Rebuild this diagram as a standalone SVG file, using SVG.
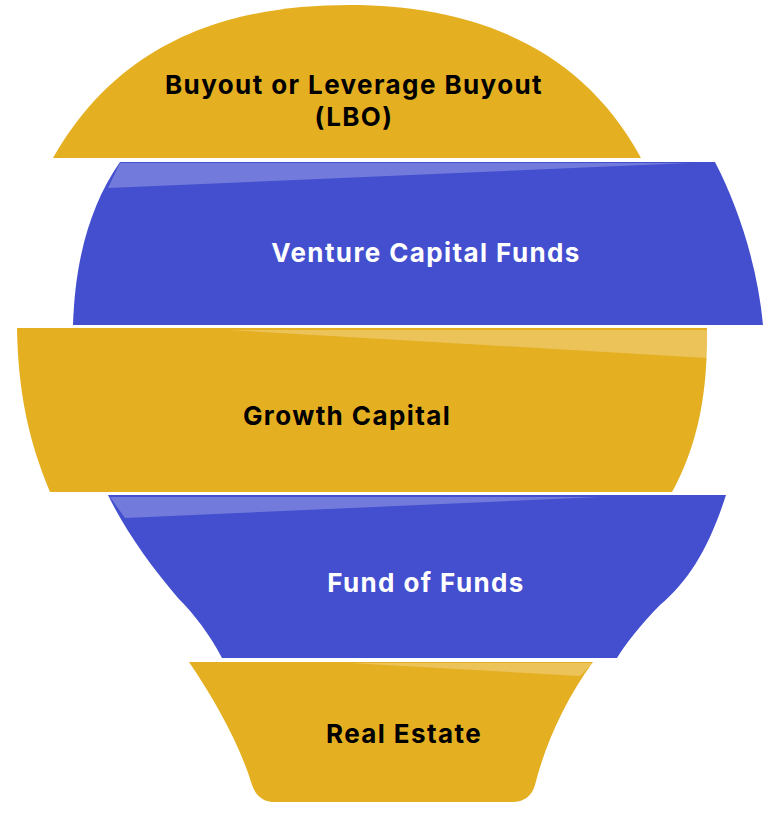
<svg xmlns="http://www.w3.org/2000/svg" width="777" height="824" viewBox="0 0 777 824">
<style>
.y{fill:#E5AF22}.b{fill:#434FCF}.h{fill:#ffffff;opacity:0.25}
.t{font-family:Inter,"Open Sans",sans-serif;font-weight:700;font-size:26px;letter-spacing:1.4px;text-anchor:middle}
.dk{fill:#000}.lt{fill:#fff}
</style>
<rect width="777" height="824" fill="#fff"/>
<g id="lbo">
<path class="y" d="M53,158 C120,40 230,5 350,5 C470,5 580,45 641,158 Z"/>
<text class="t dk" x="354" y="94">Buyout or Leverage Buyout</text>
<text class="t dk" x="354" y="126">(LBO)</text>
</g>
<g id="vc">
<path class="b" d="M120,162 L715,162 C740,210 758,270 763,325 L73,325 C75,260 90,205 120,162 Z"/>
<polygon class="h" points="120,163 690,163 108,188"/>
<text class="t lt" x="426" y="262">Venture Capital Funds</text>
</g>
<g id="growth">
<path class="y" d="M17,328 L707,328 C708,400 695,450 672,492 L50,492 C28,440 18,390 17,328 Z"/>
<polygon class="h" points="230,330 707,330 707,358"/>
<text class="t dk" x="347" y="425">Growth Capital</text>
</g>
<g id="fof">
<path class="b" d="M108,495 L726,495 C710,545 690,580 660,605 C640,625 625,645 617,658 L222,658 C210,635 195,615 178,598 C150,565 125,530 108,495 Z"/>
<polygon class="h" points="110,497 600,497 125,518"/>
<text class="t lt" x="426" y="592">Fund of Funds</text>
</g>
<g id="re">
<path class="y" d="M189,662 L593,662 C565,700 545,745 535,785 Q530,802 512,802 L275,802 Q258,802 252,785 C240,745 215,700 189,662 Z"/>
<polygon class="h" points="350,663 593,663 580,676"/>
<text class="t dk" x="404" y="743">Real Estate</text>
</g>
<g id="connectors"/>
</svg>
